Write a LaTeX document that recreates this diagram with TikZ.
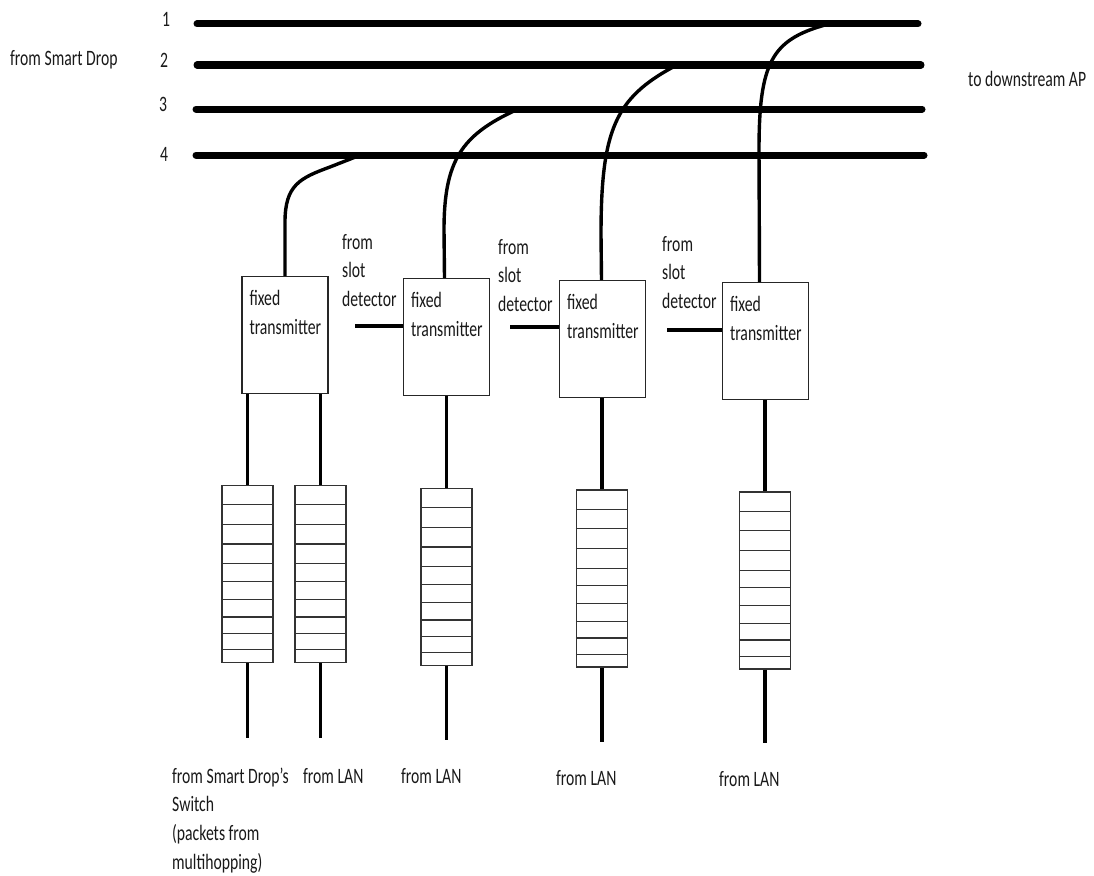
\documentclass[tikz,border=0pt]{standalone}
\usepackage{fontspec}
\setmainfont{Carlito}
\usetikzlibrary{positioning,calc}
% tall, narrow text as in the drawing
\newcommand{\tallt}[1]{\scalebox{1}[1.4]{\begin{tabular}[t]{@{}l@{}}#1\end{tabular}}}

\begin{document}
\begin{tikzpicture}[x=1pt,y=-1pt,
  txbox/.style={draw=black!85,line width=1.3pt,fill=white,
                minimum width=86pt,minimum height=117pt,inner sep=0pt},
  queue/.style={draw=black!80,line width=1.3pt,fill=white,
                minimum width=51pt,minimum height=177pt,inner sep=0pt},
  lbl/.style={font=\fontsize{15.7}{20.7}\selectfont,inner sep=0pt,
              anchor=base west,text=black!90},
  bus/.style={line width=7pt,line cap=round},
  wire/.style={line width=3.4pt},
  slotline/.style={line width=1.2pt,draw=black!80}
]
\useasboundingbox (0,0) rectangle (1094,875);

% bus lines
\coordinate (bus1w) at (197,24);  \coordinate (bus1e) at (918,24);
\coordinate (bus2w) at (197,65);  \coordinate (bus2e) at (921,65);
\coordinate (bus3w) at (196,109); \coordinate (bus3e) at (922,109);
\coordinate (bus4w) at (196,155); \coordinate (bus4e) at (924,155);
\foreach \n in {1,...,4} \draw[bus] (bus\n w) -- (bus\n e);

\node[lbl] (num1) at (162,27)  {\tallt{1}};
\node[lbl] (num2) at (160,67)  {\tallt{2}};
\node[lbl] (num3) at (159,111) {\tallt{3}};
\node[lbl] (num4) at (160,161) {\tallt{4}};
\node[lbl] (src) at (10,65) {\tallt{from Smart Drop}};
\node[lbl] (dst) at (968,86) {\tallt{to downstream AP}};

% taps on the bus
\coordinate (tap1) at (358,156);
\coordinate (tap2) at (516,110);
\coordinate (tap3) at (675,66);
\coordinate (tap4) at (825,25);

% transmitters
\node[txbox] (tx1) at (285,335)   {};
\node[txbox] (tx2) at (446.5,337) {};
\node[txbox] (tx3) at (602.5,339) {};
\node[txbox] (tx4) at (765.5,341) {};
\foreach \t in {1,...,4}
  \node[lbl] (tx\t lbl) at ($(tx\t.north west)+(8,30)$) {\tallt{fixed\\transmitter}};

\draw[wire] (tx1.north) -- (285,222) .. controls (285,185) and (300,178) .. (330,167) -- (tap1);
\draw[wire] ([xshift=-2pt]tx2.north) -- (444,230) .. controls (444,160) and (462,135) .. (tap2);
\draw[wire] ([xshift=-1pt]tx3.north) -- (601,235) .. controls (601,130) and (615,98) .. (tap3);
\draw[wire] ([xshift=-6pt]tx4.north) -- (759,150) .. controls (759,62) and (772,40) .. (tap4);

% slot detectors
\node[lbl] (sd1lbl) at (342,249) {\tallt{from\\slot\\detector}};
\node[lbl] (sd2lbl) at (498,254) {\tallt{from\\slot\\detector}};
\node[lbl] (sd3lbl) at (662,251) {\tallt{from\\slot\\detector}};
\coordinate (sd1) at (355,326);
\coordinate (sd2) at (510,327);
\coordinate (sd3) at (667,330);
\draw[wire] (sd1) -- (sd1 -| tx2.west);
\draw[wire] (sd2) -- (sd2 -| tx3.west);
\draw[wire] (sd3) -- (sd3 -| tx4.west);

% queues
\node[queue] (q1) at (247.5,574) {};
\node[queue] (q2) at (320.5,574) {};
\node[queue] (q3) at (446.5,577) {};
\node[queue] (q4) at (602,578.5) {};
\node[queue] (q5) at (765,580.5) {};
\foreach \q in {q1,q2,q3,q4,q5}
  \foreach \f in {0.112,0.221,0.332,0.442,0.541,0.641,0.741,0.834,0.925}
    \draw[slotline] ($(\q.north west)!\f!(\q.south west)$) -- ($(\q.north east)!\f!(\q.south east)$);

\draw[wire] (q1.north |- tx1.south) -- (q1.north);
\draw[wire] (q2.north |- tx1.south) -- (q2.north);
\draw[wire] (q3.north |- tx2.south) -- (q3.north);
\draw[wire] (q4.north |- tx3.south) -- (q4.north);
\draw[wire] (q5.north |- tx4.south) -- (q5.north);

\coordinate (in1) at (247.5,738);
\coordinate (in2) at (320.5,738);
\coordinate (in3) at (446.5,740);
\coordinate (in4) at (602,742);
\coordinate (in5) at (765,743);
\foreach \n in {1,...,5} \draw[wire] (q\n.south) -- (in\n);

\node[lbl] (sw)   at (172,783) {\tallt{from Smart Drop's\\Switch\\(packets from\\multihopping)}};
\node[lbl] (lan1) at (303,783) {\tallt{from LAN}};
\node[lbl] (lan2) at (401,783) {\tallt{from LAN}};
\node[lbl] (lan3) at (556,785) {\tallt{from LAN}};
\node[lbl] (lan4) at (719,786) {\tallt{from LAN}};
\end{tikzpicture}
\end{document}
